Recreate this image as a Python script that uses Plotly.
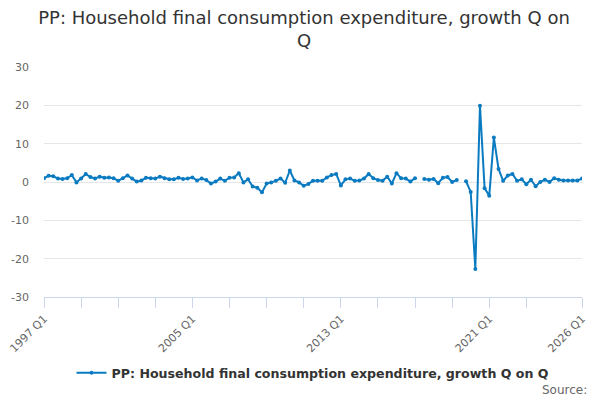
import plotly.graph_objects as go

# Quarterly growth, % on previous quarter, 1997 Q1 to 2026 Q1 (None = no value)
years = list(range(1997, 2027))
quarters = [f"{y} Q{q}" for y in years for q in range(1, 5)][:117]

growth = [
    1.0, 1.6, 1.5, 0.9, 0.8, 1.0, 1.8, -0.1, 0.9, 2.1,
    1.3, 0.9, 1.4, 1.1, 1.2, 1.0, 0.3, 1.0, 1.7, 0.9,
    0.1, 0.4, 1.1, 1.0, 0.9, 1.4, 1.0, 0.7, 0.7, 1.1,
    0.8, 0.9, 1.2, 0.4, 0.9, 0.5, -0.4, 0.1, 0.9, 0.3,
    1.1, 1.2, 2.3, -0.1, 0.7, -1.2, -1.5, -2.7, -0.4, -0.1,
    0.3, 0.9, -0.2, 3.0, 0.4, -0.1, -1.0, -0.5, 0.3, 0.3,
    0.3, 1.2, 1.8, 2.1, -0.9, 0.7, 0.9, 0.3, 0.4, 0.9,
    2.1, 1.0, 0.5, 0.3, 1.4, -0.4, 2.3, 1.0, 0.9, 0.1,
    1.0, None, 0.8, 0.6, 0.8, -0.3, 1.1, 1.3, 0.0, 0.5,
    None, 0.2, -2.6, -22.7, 19.9, -1.6, -3.6, 11.6, 3.4, 0.3,
    1.7, 2.1, 0.3, 0.7, -0.6, 0.6, -1.1, 0.0, 0.6, 0.0,
    1.0, 0.6, 0.4, 0.4, 0.4, 0.4, 0.9,
]

# tick marks every 2 years, labels every 8 years plus the last quarter
tick_idx = list(range(0, 105, 8)) + [116]
tick_vals = [quarters[i] for i in tick_idx]
tick_text = [quarters[i] if (i % 32 == 0 or i == 116) else "" for i in tick_idx]

y_ticks = [-30, -20, -10, 0, 10, 20, 30]
y_text = [str(v) for v in y_ticks]  # plain hyphen, not the unicode minus

series_name = "PP: Household final consumption expenditure, growth Q on Q"
blue = "#0b7bc1"

fig = go.Figure()
fig.add_trace(go.Scatter(
    x=quarters, y=growth, name=series_name,
    mode="lines+markers",
    line=dict(color=blue, width=2),
    marker=dict(color=blue, size=4),
    connectgaps=False,
))

# the page body adds an 8px offset, so the figure is 592x392 and
# everything is placed 8px up/left of where it shows in the window
fig.update_layout(
    width=592, height=392,
    margin=dict(l=36, r=18, t=59, b=103),
    paper_bgcolor="white", plot_bgcolor="white",
    font=dict(family="DejaVu Sans", size=11, color="#666666"),
    title=dict(
        text="PP: Household final consumption expenditure, growth Q on<br>Q",
        x=0.5, xanchor="center", y=0.959, yanchor="middle",
        font=dict(size=18, color="#333333"),
    ),
    showlegend=True,
    legend=dict(
        orientation="h", x=0.5, xanchor="center",
        yref="container", y=0.069, yanchor="middle",
        font=dict(size=12.6, color="#333333", weight="bold"),
        itemwidth=30,
    ),
    annotations=[dict(
        text="Source:", xref="paper", yref="paper",
        x=1.013, y=-93 / 230, xanchor="right", yanchor="middle",
        showarrow=False, font=dict(size=12, color="#666666"),
    )],
)

fig.update_xaxes(
    type="category", range=[0, 116], automargin=False,
    tickmode="array", tickvals=tick_vals, ticktext=tick_text,
    tickangle=-45, ticks="outside", ticklen=10, tickcolor="#ccd6eb",
    showline=True, linecolor="#ccd6eb", linewidth=1,
    showgrid=False, zeroline=False,
)
fig.update_yaxes(
    range=[-30, 30], tickmode="array", tickvals=y_ticks, ticktext=y_text,
    automargin=False,
    showgrid=True, gridcolor="#e6e6e6", gridwidth=1,
    zeroline=False, showline=False, ticklabelstandoff=14,
)

fig.write_html("out.html")
